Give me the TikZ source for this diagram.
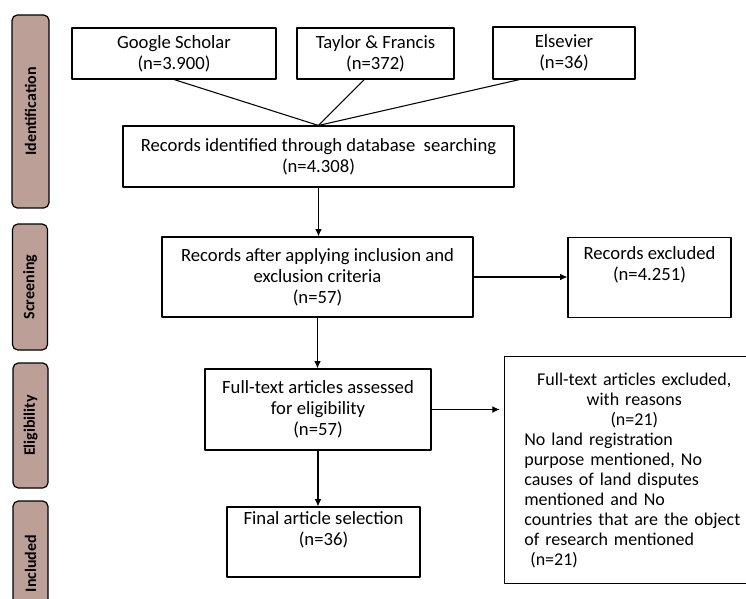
\documentclass[tikz,border=0pt]{standalone}
\usepackage{fontspec}
\setmainfont{Carlito}
\usetikzlibrary{arrows.meta,calc}
\definecolor{barfill}{RGB}{188,160,152}
\tikzset{
	box/.style={draw, line width=0.8pt, align=center, inner sep=2pt},
	bar/.style={draw, line width=0.9pt, fill=barfill, rounded corners=4pt, rotate=90, inner sep=0pt, font=\fontsize{12}{14}\selectfont\bfseries}
}
\begin{document}
\begin{tikzpicture}[x=0.75pt, y=-0.75pt, font=\fontsize{14}{15.75}\selectfont, line join=round, >={Latex[length=5.5pt,width=5pt]}]
			\useasboundingbox (0,0) rectangle (746,599);
			% Thanh giai đoạn bên trái
			\node[bar, minimum width=144.75pt, minimum height=27.75pt] (bId)   at (30.5,111.5) {Identification};
			\node[bar, minimum width=94.5pt,   minimum height=26.25pt] (bScr)  at (30,287)    {Screening};
			\node[bar, minimum width=93.75pt,  minimum height=26.25pt] (bElig) at (30.5,425.5) {Eligibility};
			\node[bar, minimum width=93.75pt,  minimum height=26.25pt] (bInc)  at (30.5,563.5) {Included};
			
			% Nguồn dữ liệu
			\node[box, minimum width=153pt,    minimum height=38.25pt] (gs)  at (174,53.5)   {Google Scholar\\(n=3.900)};
			\node[box, minimum width=117.75pt, minimum height=38.25pt] (tf)  at (375.5,53.5) {Taylor \& Francis\\(n=372)};
			\node[box, minimum width=106.5pt,  minimum height=39pt]    (els) at (564,53)     {Elsevier\\(n=36)};
			
			% Các bước chính
			\node[box, minimum width=293.25pt, minimum height=45.75pt] (rec)  at (318.5,156.5) {Records identified through database \ searching\\(n=4.308)};
			\node[box, minimum width=233.25pt, minimum height=60pt]    (scr)  at (317.5,277)   {Records after applying inclusion and\\exclusion criteria\\(n=57)};
			\node[box, minimum width=169.5pt,  minimum height=60.75pt] (elig) at (318,409.5)   {Full-text articles assessed\\for eligibility\\(n=57)};
			\node[box, minimum width=144.75pt, minimum height=52.5pt]  (fin)  at (323.5,542)   {Final article selection\\(n=36)\\\strut};
			
			% Các ô loại bỏ (ô cuối bị cắt ở mép phải)
			\node[box, minimum width=122.25pt, minimum height=60pt] (exc1) at (649.5,277.5) {Records excluded\\(n=4.251)\\\strut};
			\node[box, draw=none, text width=165pt, align=left, inner xsep=14.5pt, minimum height=169.5pt,
				font=\fontsize{13.5}{15}\selectfont] (exc2) at (634.3,470)
				{{\centering Full-text articles excluded,\par with reasons\par (n=21)\par}
				No land registration\\ purpose mentioned, No\\ causes of land disputes\\ mentioned and No\\ countries that are the object\\ of research mentioned\\ \ (n=21)};
			\draw[line width=0.8pt] (exc2.north east) -- (exc2.north west) -- (exc2.south west) -- (exc2.south east);
			
			% Đường nối
			\draw[line width=0.8pt] (gs.south) -- (rec.north);
			\draw[line width=0.8pt] ($(tf.south west)!0.43!(tf.south east)$) -- (rec.north);
			\draw[line width=0.8pt] ($(els.south west)!0.19!(els.south east)$) -- (rec.north);
			\draw[->, line width=0.8pt] (rec.south) -- (rec.south |- scr.north);
			\draw[->, line width=0.8pt] (scr.east) -- (scr.east -| exc1.west);
			\draw[->, line width=0.8pt] (scr.south) -- (scr.south |- elig.north);
			\draw[->, line width=0.8pt, shorten >=3.5pt] (elig.east) -- (elig.east -| exc2.west);
			\draw[->, line width=0.8pt] (elig.south) -- (elig.south |- fin.north);
		\end{tikzpicture}
\end{document}
